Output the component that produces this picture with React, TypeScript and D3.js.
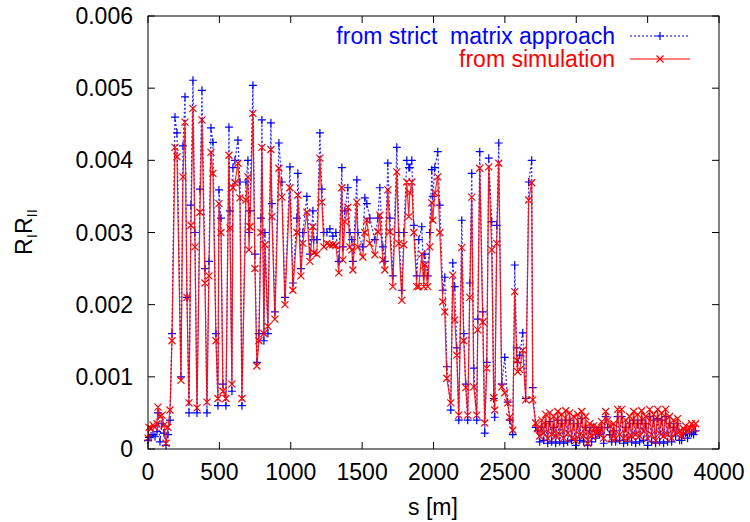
import React from "react";
import * as d3 from "d3";

const sPositions = [
  0, 7, 21, 35, 49, 63, 70, 84, 98, 112, 126, 140, 154, 168, 189, 203, 231, 245, 259, 273,
  287, 301, 315, 329, 343, 364, 378, 399, 413, 427, 441, 455, 476, 490, 497, 511, 525, 546, 567, 574,
  588, 595, 609, 630, 644, 658, 686, 700, 707, 714, 735, 749, 763, 777, 791, 798, 812, 819, 840, 861,
  868, 889, 917, 938, 959, 994, 1015, 1043, 1050, 1071, 1085, 1113, 1134, 1155, 1162, 1183, 1204, 1218, 1232, 1253,
  1274, 1295, 1316, 1337, 1358, 1365, 1379, 1400, 1414, 1428, 1435, 1463, 1470, 1505, 1519, 1533, 1554, 1589, 1610, 1624,
  1645, 1659, 1680, 1694, 1715, 1743, 1757, 1778, 1792, 1813, 1827, 1834, 1848, 1862, 1883, 1897, 1918, 1932, 1939, 1960,
  1974, 1988, 1995, 2009, 2030, 2044, 2065, 2079, 2093, 2121, 2135, 2149, 2163, 2177, 2198, 2212, 2226, 2240, 2254, 2268,
  2282, 2303, 2310, 2324, 2345, 2359, 2373, 2387, 2408, 2422, 2429, 2443, 2457, 2478, 2499, 2520, 2534, 2555, 2569, 2583,
  2590, 2604, 2625, 2646, 2667, 2688, 2695, 2716,
  2730, 2744, 2758, 2772, 2786, 2800, 2814, 2828, 2842, 2856, 2870, 2884, 2898, 2912, 2926, 2940, 2954, 2968, 2982, 2996,
  3010, 3024, 3038, 3052, 3066, 3080, 3094, 3108, 3122, 3136, 3150, 3164, 3178, 3192, 3206, 3220, 3234, 3248, 3262, 3276,
  3290, 3304, 3318, 3332, 3346, 3360, 3374, 3388, 3402, 3416, 3430, 3444, 3458, 3472, 3486, 3500, 3514, 3528, 3542, 3556,
  3570, 3584, 3598, 3612, 3626, 3640, 3654, 3668, 3682, 3696, 3710, 3724, 3738, 3752, 3766, 3780, 3794, 3808, 3822, 3836,
];

const simulationValues = [
  0.00015, 0.0003, 0.00028, 0.00033, 0.0003, 0.00035, 0.00058, 0.00045, 0.00047, 0.00033, 0.00008, 0.0003, 0.00054, 0.0015, 0.00418, 0.00405, 0.00095, 0.00377, 0.00453, 0.0021,
  0.00064, 0.0031, 0.00472, 0.0028, 0.00057, 0.00328, 0.00456, 0.0023, 0.00065, 0.0024, 0.00411, 0.00382, 0.0015, 0.0007, 0.0034, 0.003, 0.0008, 0.0007, 0.00407, 0.00306,
  0.0009, 0.00362, 0.00369, 0.00396, 0.00348, 0.0007, 0.00345, 0.00377, 0.00276, 0.00308, 0.00465, 0.0025, 0.00115, 0.0015, 0.003, 0.00418, 0.0016, 0.00283, 0.0017, 0.00415,
  0.00322, 0.0018, 0.00389, 0.00349, 0.002, 0.00362, 0.0022, 0.003, 0.00352, 0.0024, 0.00285, 0.00328, 0.0026, 0.00308, 0.00272, 0.0027, 0.00403, 0.00342, 0.0028, 0.00285,
  0.00283, 0.00283, 0.00282, 0.00244, 0.00362, 0.00262, 0.00315, 0.00335, 0.0028, 0.00276, 0.00248, 0.00342, 0.0028, 0.00266, 0.003, 0.00317, 0.00285, 0.00269, 0.00301, 0.00324,
  0.00262, 0.00248, 0.00359, 0.00301, 0.00225, 0.00384, 0.00285, 0.00206, 0.00283, 0.0037, 0.00322, 0.00355, 0.0037, 0.003, 0.00225, 0.00225, 0.0027, 0.00225, 0.00255, 0.00225,
  0.0028, 0.00341, 0.00317, 0.00355, 0.00377, 0.003, 0.00204, 0.0019, 0.00098, 0.00064, 0.00241, 0.00179, 0.0013, 0.00047, 0.00279, 0.0015, 0.00085, 0.00047, 0.0021, 0.00349,
  0.00086, 0.00047, 0.00165, 0.00389, 0.00176, 0.00036, 0.00112, 0.00391, 0.00276, 0.00071, 0.00054, 0.00285, 0.00396, 0.00086, 0.00078, 0.00064, 0.00044, 0.00026, 0.00218, 0.00123,
  0.00107, 0.0011, 0.00137, 0.00068, 0.00345, 0.00369, 0.00068, 0.00036,
  0.00028, 0.00018, 0.0004, 0.00022, 0.00048, 0.00015, 0.0005, 0.0002, 0.00045, 0.00018, 0.00052, 0.0002, 0.00048, 0.00015, 0.00053, 0.00022, 0.0005, 0.00015, 0.00045, 0.00012,
  0.00048, 0.0002, 0.00052, 0.00018, 0.00045, 0.00008, 0.00035, 0.00018, 0.00032, 0.00022, 0.0003, 0.0002, 0.00038, 0.00015, 0.00052, 0.0004, 0.00032, 0.00015, 0.00035, 0.00015,
  0.00055, 0.0002, 0.00055, 0.00015, 0.0004, 0.00015, 0.00045, 0.00018, 0.00052, 0.0002, 0.00048, 0.00018, 0.00053, 0.00025, 0.00045, 0.00015, 0.00055, 0.0002, 0.00048, 0.00012,
  0.00055, 0.00022, 0.0005, 0.00018, 0.00055, 0.0002, 0.00045, 0.00015, 0.0004, 0.00022, 0.00042, 0.00025, 0.00018, 0.00028, 0.00032, 0.00025, 0.0003, 0.00035, 0.00028, 0.00035,
];

const matrixValues = [
  0.00012, 0.00016, 0.00018, 0.0002, 0.00017, 0.00024, 0.0005, 0.0001, 0.00035, 0.00022, 0.00005, 0.0002, 0.0004, 0.0016, 0.0046, 0.00438, 0.001, 0.0042, 0.00488, 0.0021,
  0.0005, 0.00338, 0.00511, 0.003, 0.0005, 0.0036, 0.00497, 0.0025, 0.0005, 0.0026, 0.00445, 0.00425, 0.0016, 0.0006, 0.00359, 0.0032, 0.0009, 0.0006, 0.00446, 0.0033,
  0.0008, 0.0039, 0.004, 0.00428, 0.0037, 0.0006, 0.0037, 0.004, 0.003, 0.0033, 0.00504, 0.0027, 0.0012, 0.0016, 0.0032, 0.00456, 0.0015, 0.003, 0.0016, 0.00452,
  0.0034, 0.0019, 0.00424, 0.0037, 0.0021, 0.00391, 0.0023, 0.0032, 0.00382, 0.0025, 0.003, 0.0035, 0.0027, 0.0033, 0.0029, 0.0029, 0.00438, 0.0036, 0.003, 0.003,
  0.00305, 0.00295, 0.003, 0.0026, 0.0039, 0.0028, 0.0033, 0.00362, 0.003, 0.0029, 0.0026, 0.00373, 0.003, 0.0028, 0.00348, 0.0034, 0.0032, 0.0029, 0.0032, 0.00362,
  0.0028, 0.0026, 0.00396, 0.0032, 0.0024, 0.00418, 0.003, 0.0022, 0.003, 0.004, 0.0039, 0.0039, 0.004, 0.0031, 0.0024, 0.0029, 0.00308, 0.0024, 0.0027, 0.0024,
  0.003, 0.00387, 0.0035, 0.0039, 0.00412, 0.00338, 0.0022, 0.00238, 0.00114, 0.00054, 0.00258, 0.00225, 0.0014, 0.0004, 0.00317, 0.0016, 0.0009, 0.0004, 0.0023, 0.00382,
  0.00112, 0.0004, 0.0018, 0.00412, 0.0019, 0.00022, 0.0012, 0.00403, 0.00315, 0.0007, 0.00044, 0.0031, 0.00424, 0.0009, 0.00127, 0.00065, 0.0004, 0.0002, 0.00255, 0.0014,
  0.0012, 0.0013, 0.00161, 0.0007, 0.0037, 0.004, 0.00085, 0.0003,
  0.00025, 0.0001, 0.0003, 0.00012, 0.00035, 0.00008, 0.00038, 0.0001, 0.0003, 0.00008, 0.0004, 0.0001, 0.00035, 0.00008, 0.0004, 0.0001, 0.0004, 0.00012, 0.00035, 0.00005,
  0.00035, 0.00012, 0.00042, 0.0001, 0.0003, 0.00005, 0.00025, 0.0001, 0.0003, 0.00015, 0.00025, 0.0002, 0.0003, 0.00008, 0.00045, 0.0003, 0.0002, 0.0001, 0.00025, 0.0001,
  0.00045, 0.00012, 0.00045, 0.00008, 0.0003, 0.0001, 0.00035, 0.0001, 0.0004, 0.00008, 0.00035, 0.0001, 0.0004, 0.00012, 0.00035, 0.00005, 0.00045, 0.0001, 0.0004, 0.00008,
  0.00042, 0.0001, 0.0004, 0.00008, 0.00045, 0.0001, 0.00035, 0.0001, 0.0003, 0.00018, 0.00035, 0.00012, 0.00012, 0.0002, 0.00022, 0.00015, 0.00022, 0.00022, 0.0002, 0.00025,
];

const xTicks = [0, 500, 1000, 1500, 2000, 2500, 3000, 3500, 4000];
const yTicks = [0, 0.001, 0.002, 0.003, 0.004, 0.005, 0.006];
const yTickLabels = ["0", "0.001", "0.002", "0.003", "0.004", "0.005", "0.006"];
const seriesLabels = ["from strict  matrix approach", "from simulation"];

const FONT = "'Liberation Sans', Arial, Helvetica, sans-serif";

export default function App() {
  const W = 750;
  const H = 522;
  const left = 148, right = 719, top = 16, bottom = 449;
  const x = d3.scaleLinear().domain([0, 4000]).range([left, right]);
  const y = d3.scaleLinear().domain([0, 0.006]).range([bottom, top]);

  const lineGen = (vals: number[]) =>
    d3.line<number>().x((_, i) => x(sPositions[i])).y((d) => y(d))(vals) || "";

  const plus = (cx: number, cy: number, r: number) =>
    `M${cx - r},${cy}H${cx + r}M${cx},${cy - r}V${cy + r}`;
  const cross = (cx: number, cy: number, r: number) =>
    `M${cx - r},${cy - r}L${cx + r},${cy + r}M${cx - r},${cy + r}L${cx + r},${cy - r}`;

  const blueMarks = matrixValues.map((v, i) => plus(x(sPositions[i]), y(v), 4)).join("");
  const redMarks = simulationValues.map((v, i) => cross(x(sPositions[i]), y(v), 3.5)).join("");

  const tickLen = 7;
  const blue = "#0000ff";
  const red = "#ff0000";
  const fs = 23;

  return (
    <svg width={W} height={H} style={{ position: "absolute", left: 0, top: 0, background: "#fff" }} fontFamily={FONT}>
      <rect x={0} y={0} width={W} height={H} fill="#fff" />
      {xTicks.map((t) => (
        <g key={"xt" + t}>
          <line x1={x(t)} x2={x(t)} y1={bottom} y2={bottom - tickLen} stroke="#000" />
          <line x1={x(t)} x2={x(t)} y1={top} y2={top + tickLen} stroke="#000" />
          <text x={x(t)} y={480} fontSize={fs} textAnchor="middle" fill="#000">{t}</text>
        </g>
      ))}
      {yTicks.map((t, i) => (
        <g key={"yt" + t}>
          <line x1={left} x2={left + tickLen} y1={y(t)} y2={y(t)} stroke="#000" />
          <line x1={right} x2={right - tickLen} y1={y(t)} y2={y(t)} stroke="#000" />
          <text x={133} y={y(t) + 8} fontSize={fs} textAnchor="end" fill="#000">{yTickLabels[i]}</text>
        </g>
      ))}
      <path d={lineGen(matrixValues)} fill="none" stroke={blue} strokeWidth={1.2} strokeDasharray="2,2" opacity={0.85} />
      <path d={blueMarks} fill="none" stroke={blue} strokeWidth={1.2} />
      <path d={lineGen(simulationValues)} fill="none" stroke={red} strokeWidth={1.2} opacity={0.85} />
      <path d={redMarks} fill="none" stroke={red} strokeWidth={1.2} />
      <rect x={left} y={top} width={right - left} height={bottom - top} fill="none" stroke="#000" strokeWidth={1} />
      <text x={615} y={44} fontSize={fs} textAnchor="end" fill={blue} style={{ whiteSpace: "pre" }}>{seriesLabels[0]}</text>
      <line x1={630} x2={690} y1={36} y2={36} stroke={blue} strokeWidth={1.2} strokeDasharray="2,2" />
      <path d={plus(660, 36, 4)} stroke={blue} strokeWidth={1.2} />
      <text x={615} y={67} fontSize={fs} textAnchor="end" fill={red}>{seriesLabels[1]}</text>
      <line x1={630} x2={690} y1={59} y2={59} stroke={red} strokeWidth={1.2} />
      <path d={cross(660, 59, 3.5)} stroke={red} strokeWidth={1.2} />
      <text x={433} y={515} fontSize={fs} textAnchor="middle" fill="#000">s [m]</text>
      <text transform="translate(32,232) rotate(-90)" fontSize={fs} textAnchor="middle" fill="#000">
        R<tspan dy={5} fontSize={15}>I</tspan><tspan dy={-5}>R</tspan><tspan dy={5} fontSize={15}>II</tspan>
      </text>
    </svg>
  );
}
